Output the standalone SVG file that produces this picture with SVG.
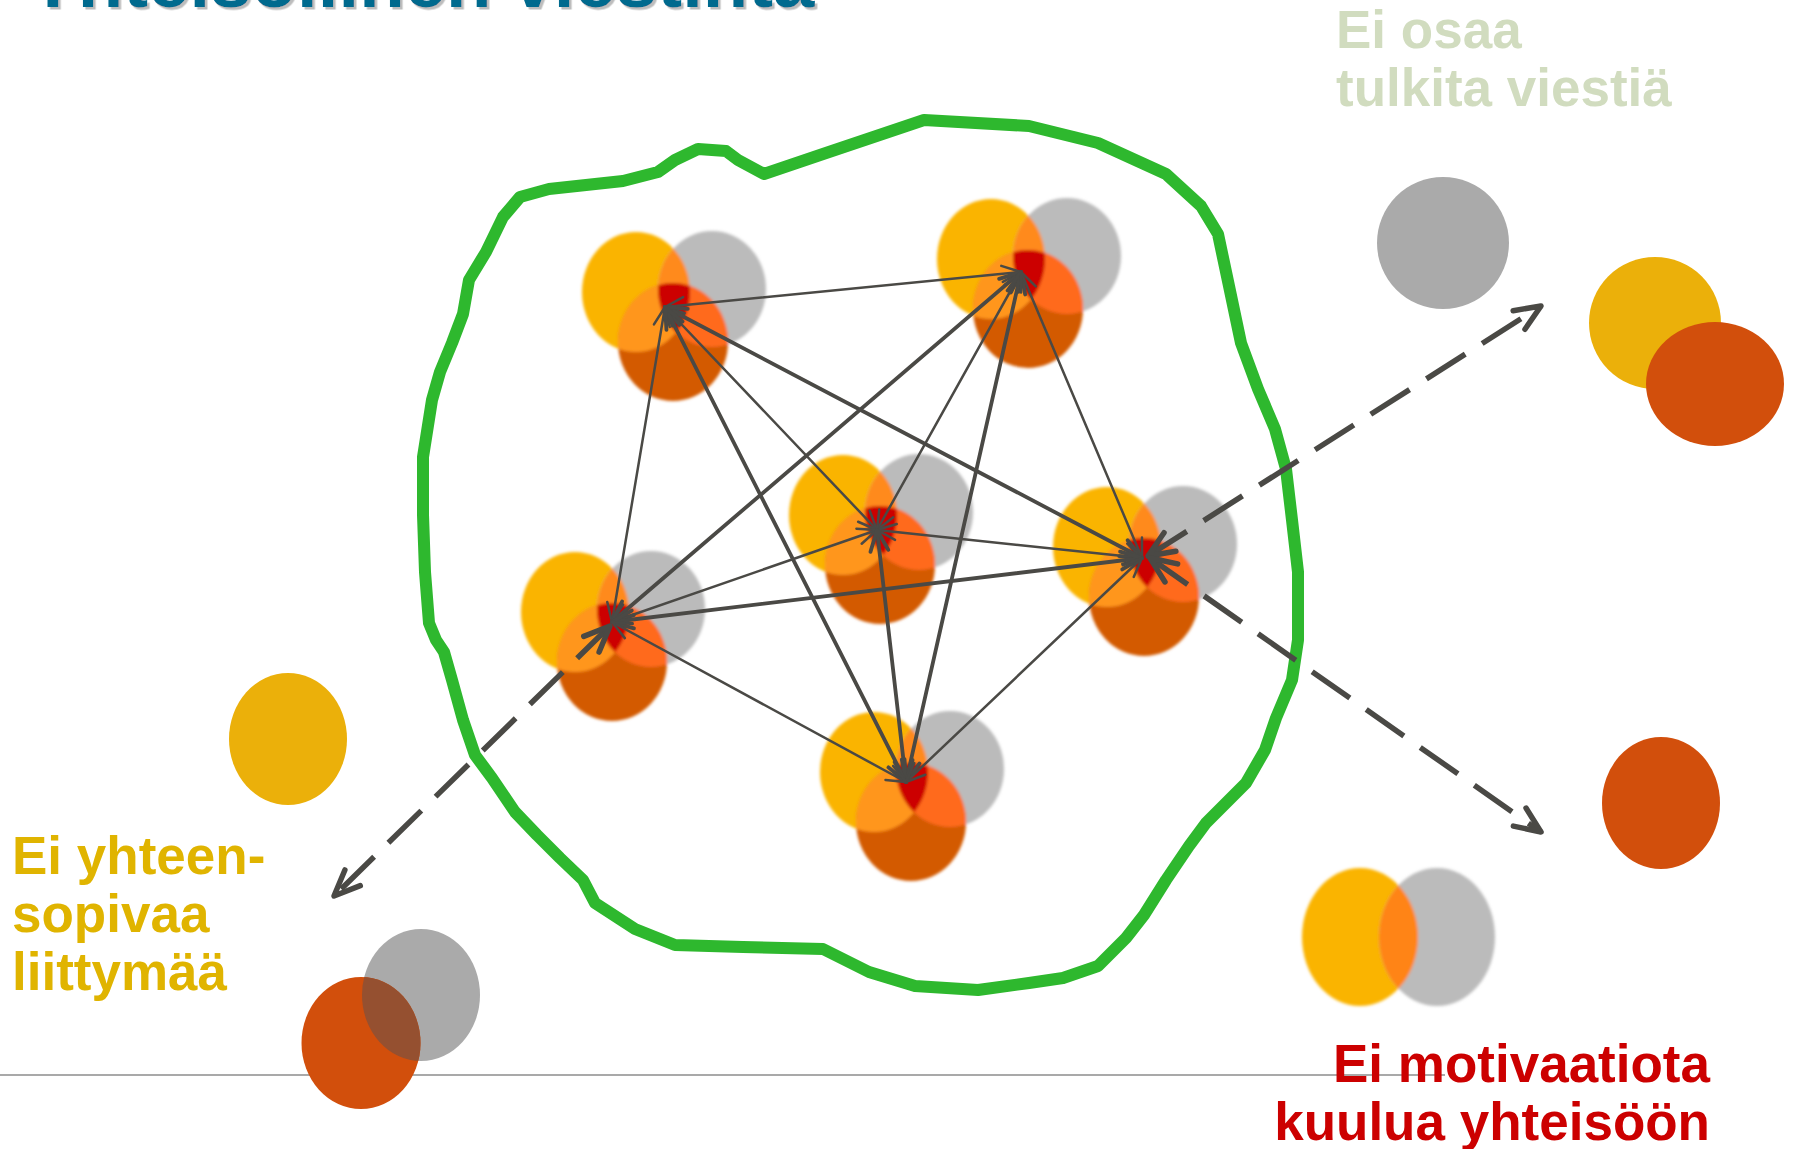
<svg xmlns="http://www.w3.org/2000/svg" width="1793" height="1149" viewBox="0 0 1793 1149">
<style>
.title{font-family:"Liberation Sans",Arial,sans-serif;font-weight:bold;font-size:74.5px;fill:#006A8E;}
.lbl{font-family:"Liberation Sans",Arial,sans-serif;font-weight:bold;}
.c{fill:none;stroke:#4a4945;stroke-linecap:round;}
.thin{stroke-width:2.5;marker-start:url(#ah);marker-end:url(#ah);}
.thick{stroke-width:3.8;marker-start:url(#ahT);marker-end:url(#ahT);}
.dash{stroke-width:5.5;stroke-dasharray:46 20;stroke-linecap:butt;marker-start:url(#ahD);marker-end:url(#ahD);}
</style>
<defs>
<marker id="ah" markerUnits="userSpaceOnUse" orient="auto-start-reverse" overflow="visible" markerWidth="1" markerHeight="1" refX="0" refY="0"><path d="M-19,-8 L0,0 L-19,8" fill="none" stroke="#4a4945" stroke-width="2.5" stroke-linecap="round" stroke-linejoin="round"/></marker>
<marker id="ahT" markerUnits="userSpaceOnUse" orient="auto-start-reverse" overflow="visible" markerWidth="1" markerHeight="1" refX="0" refY="0"><path d="M-21,-9 L0,0 L-21,9" fill="none" stroke="#4a4945" stroke-width="3.8" stroke-linecap="round" stroke-linejoin="round"/></marker>
<marker id="ahD" markerUnits="userSpaceOnUse" orient="auto-start-reverse" overflow="visible" markerWidth="1" markerHeight="1" refX="0" refY="0"><path d="M-26,-11 L0,0 L-26,11" fill="none" stroke="#4a4945" stroke-width="5.5" stroke-linecap="round" stroke-linejoin="round"/></marker>
<clipPath id="cY"><ellipse cx="0" cy="0" rx="54" ry="60"/></clipPath>
<clipPath id="cG"><ellipse cx="76" cy="-3" rx="54" ry="58"/></clipPath>
<clipPath id="cOr"><ellipse cx="361" cy="1043" rx="59.5" ry="66"/></clipPath>
<clipPath id="cY2"><ellipse cx="1360" cy="937" rx="58" ry="69"/></clipPath>
<filter id="soft" x="-20%" y="-20%" width="140%" height="140%"><feGaussianBlur stdDeviation="1.8"/></filter>
<filter id="tshadow" x="-5%" y="-50%" width="110%" height="200%"><feDropShadow dx="2.5" dy="2.5" stdDeviation="0.6" flood-color="#BDBDBD" flood-opacity="1"/></filter>
<g id="cluster">
<ellipse cx="0" cy="0" rx="54" ry="60" fill="#FAB400"/>
<ellipse cx="76" cy="-3" rx="54" ry="58" fill="#BBBBBB"/>
<ellipse cx="37" cy="50" rx="55" ry="59" fill="#D35A00"/>
<ellipse cx="76" cy="-3" rx="54" ry="58" fill="#FF8A1C" clip-path="url(#cY)"/>
<ellipse cx="37" cy="50" rx="55" ry="59" fill="#FF961E" clip-path="url(#cY)"/>
<ellipse cx="37" cy="50" rx="55" ry="59" fill="#FF6A1A" clip-path="url(#cG)"/>
<g clip-path="url(#cY)"><ellipse cx="37" cy="50" rx="55" ry="59" fill="#CC0000" clip-path="url(#cG)"/></g>
</g>
</defs>
<rect width="1793" height="1149" fill="#FFFFFF"/>
<g id="title"><text class="title" x="28" y="7" filter="url(#tshadow)">Yhteisöllinen viestintä</text></g>
<line id="baseline-rule" x1="0" y1="1075" x2="1445" y2="1075" stroke="#8c8c8c" stroke-width="1.5"/>
<g id="community-boundary">
<path d="M924,120 L1029,126 L1098,143 L1166,174 L1201,206 L1218,234 L1229,286 L1241,343 L1258,389 L1275,429 L1286,469 L1292,520 L1298,572 L1298,640 L1292,680 L1276,718 L1265,750 L1246,783 L1229,800 L1206,823 L1189,846 L1166,880 L1144,915 L1126,938 L1098,966 L1063,978 L1029,983 L978,990 L915,986 L869,972 L823,949 L743,947 L675,945 L635,929 L595,903 L583,880 L560,858 L537,835 L515,812 L492,778 L475,755 L463,720 L452,680 L444,652 L436,640 L429,623 L425,572 L423,515 L423,457 L432,400 L440,372 L452,343 L463,314 L469,280 L486,252 L503,217 L520,197 L549,189 L623,181 L658,172 L675,160 L698,149 L726,151 L738,160 L764,174 L823,154 Z" fill="none" stroke="#2EB82E" stroke-width="12" stroke-linejoin="round"/>
</g>
<g id="node1"><use href="#cluster" x="636" y="292" filter="url(#soft)"/></g>
<g id="node2"><use href="#cluster" x="991" y="259" filter="url(#soft)"/></g>
<g id="node3"><use href="#cluster" x="843" y="515" filter="url(#soft)"/></g>
<g id="node4"><use href="#cluster" x="1107" y="547" filter="url(#soft)"/></g>
<g id="node5"><use href="#cluster" x="575" y="612" filter="url(#soft)"/></g>
<g id="node6"><use href="#cluster" x="874" y="772" filter="url(#soft)"/></g>
<g id="connectors">
<line class="c thin" x1="665" y1="307" x2="1021" y2="272"/>
<line class="c thin" x1="665" y1="307" x2="612" y2="622"/>
<line class="c thin" x1="665" y1="307" x2="877" y2="530"/>
<line class="c thick" x1="665" y1="307" x2="1142" y2="558"/>
<line class="c thick" x1="665" y1="307" x2="906" y2="782"/>
<line class="c thick" x1="1021" y1="272" x2="612" y2="622"/>
<line class="c thin" x1="1021" y1="272" x2="877" y2="530"/>
<line class="c thick" x1="1021" y1="272" x2="906" y2="782"/>
<line class="c thin" x1="1021" y1="272" x2="1142" y2="558"/>
<line class="c thin" x1="877" y1="530" x2="612" y2="622"/>
<line class="c thin" x1="877" y1="530" x2="1142" y2="558"/>
<line class="c thick" x1="877" y1="530" x2="906" y2="782"/>
<line class="c thick" x1="1142" y1="558" x2="612" y2="622"/>
<line class="c thin" x1="1142" y1="558" x2="906" y2="782"/>
<line class="c thin" x1="612" y1="622" x2="906" y2="782"/>
<line class="c dash" x1="1148" y1="556" x2="1541" y2="306"/>
<line class="c dash" x1="1150" y1="558" x2="1541" y2="832"/>
<line class="c dash" x1="610" y1="626" x2="334" y2="896"/>
</g>
<g id="outsider-gray"><ellipse cx="1443" cy="243" rx="66" ry="66" fill="#AAAAAA"/></g>
<g id="outsider-yellow-orange"><ellipse cx="1655" cy="323" rx="66" ry="66" fill="#EBB00A"/><ellipse cx="1715" cy="384" rx="69" ry="62" fill="#D24F0C"/></g>
<g id="outsider-yellow"><ellipse cx="288" cy="739" rx="59" ry="66" fill="#EBB00A"/></g>
<g id="outsider-gray-orange"><ellipse cx="421" cy="995" rx="59" ry="66" fill="#AAAAAA"/><ellipse cx="361" cy="1043" rx="59.5" ry="66" fill="#D24F0C"/><ellipse cx="421" cy="995" rx="59" ry="66" fill="#955030" clip-path="url(#cOr)"/></g>
<g id="outsider-orange"><ellipse cx="1661" cy="803" rx="59" ry="66" fill="#D24F0C"/></g>
<g id="outsider-yellow-gray" filter="url(#soft)"><ellipse cx="1360" cy="937" rx="58" ry="69" fill="#FAB400"/><ellipse cx="1437" cy="937" rx="58" ry="69" fill="#BBBBBB"/><ellipse cx="1437" cy="937" rx="58" ry="69" fill="#FF8419" clip-path="url(#cY2)"/></g>
<g id="label-interpret"><text class="lbl" font-size="53" fill="#D1DCBF"><tspan x="1336" y="48">Ei osaa</tspan><tspan x="1336" y="106">tulkita viestiä</tspan></text></g>
<g id="label-compatible"><text class="lbl" font-size="53" fill="#E0B400"><tspan x="12" y="874">Ei yhteen-</tspan><tspan x="12" y="932">sopivaa</tspan><tspan x="12" y="990">liittymää</tspan></text></g>
<g id="label-motivation"><text class="lbl" font-size="53" fill="#CC0000" text-anchor="end"><tspan x="1710" y="1082">Ei motivaatiota</tspan><tspan x="1710" y="1140">kuulua yhteisöön</tspan></text></g>
</svg>
